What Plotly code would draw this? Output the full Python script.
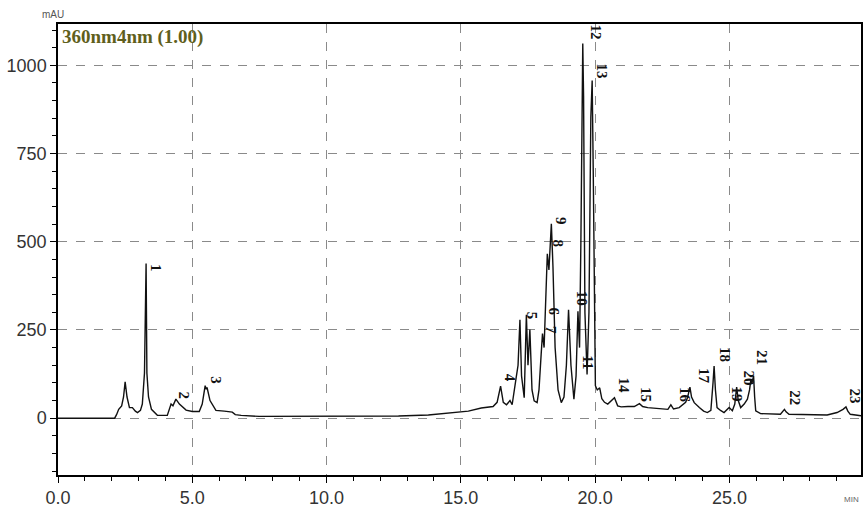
import plotly.graph_objects as go

# Chromatogram trace (time in min, absorbance in mAU)
time_min = [0.00, 2.11, 2.18, 2.26, 2.37, 2.44, 2.50, 2.57, 2.66, 2.77, 2.88, 2.96, 3.07, 3.14, 3.22, 3.28, 3.31, 3.37,
            3.48, 3.70, 4.07, 4.21, 4.28, 4.39, 4.52, 4.77, 5.00, 5.26, 5.37, 5.48, 5.52, 5.55, 5.66, 5.88, 6.19, 6.49,
            6.60, 6.82, 7.49, 10.08, 12.68, 13.79, 14.54, 15.28, 15.76, 16.20, 16.35, 16.48, 16.58, 16.70, 16.83, 16.91,
            17.06, 17.13, 17.20, 17.26, 17.36, 17.44, 17.50, 17.57, 17.65, 17.73, 17.84, 17.91, 17.99, 18.04, 18.10,
            18.15, 18.22, 18.28, 18.37, 18.43, 18.51, 18.62, 18.74, 18.84, 18.93, 19.01, 19.10, 19.21, 19.29, 19.36,
            19.42, 19.47, 19.51, 19.54, 19.57, 19.62, 19.70, 19.77, 19.84, 19.89, 19.93, 20.01, 20.08, 20.17, 20.25,
            20.35, 20.47, 20.72, 20.84, 20.97, 21.22, 21.46, 21.65, 21.77, 21.96, 22.33, 22.71, 22.82, 22.92, 23.13,
            23.37, 23.44, 23.53, 23.59, 23.69, 23.88, 24.04, 24.18, 24.31, 24.39, 24.43, 24.48, 24.54, 24.67, 24.80,
            24.99, 25.11, 25.20, 25.27, 25.33, 25.42, 25.55, 25.67, 25.75, 25.80, 25.84, 25.90, 25.94, 25.98, 26.16,
            26.60, 26.90, 27.05, 27.11, 27.22, 27.71, 28.14, 28.64, 29.01, 29.23, 29.34, 29.41, 29.50, 29.90]
absorb_mau = [0, 0, 10, 25, 35, 60, 103, 60, 30, 30, 20, 16, 22, 40, 128, 438, 128, 60,
              25, 8, 8, 40, 35, 54, 40, 23, 19, 19, 40, 92, 82, 87, 50, 22, 20, 17,
              10, 8, 5, 5, 6, 9, 14, 20, 29, 33, 45, 91, 45, 38, 50, 38,
              115, 150, 279, 120, 58, 293, 150, 251, 80, 49, 44, 80, 180, 240, 200,
              300, 466, 420, 551, 430, 200, 80, 44, 60, 150, 307, 150, 54, 120, 303,
              200, 500, 913, 1062, 913, 300, 124, 300, 853, 957, 700, 92, 80, 86, 55,
              45, 40, 58, 35, 32, 33, 33, 41, 33, 30, 27, 25, 38, 26, 30,
              45, 58, 88, 60, 44, 30, 20, 16, 22, 100, 148, 80, 30, 22, 16,
              30, 21, 40, 88, 50, 30, 40, 54, 80, 110, 100, 120, 60, 21, 13,
              12, 11, 25, 18, 11, 11, 10, 9, 16, 25, 32, 20, 11, 7]

# Peak labels
peak_names = ["1", "2", "3", "4", "5", "6", "7", "8", "9", "10", "11", "12",
              "13", "14", "15", "16", "17", "18", "19", "20", "21", "22", "23"]
peak_label_t = [3.66, 4.71, 5.90, 16.84, 17.65, 18.47, 18.36, 18.62, 18.75, 19.49, 19.75, 20.02,
                20.25, 21.08, 21.90, 23.34, 24.06, 24.86, 25.27, 25.73, 26.22, 27.46, 29.69]
peak_label_v = [425, 63, 106, 114, 290, 302, 250, 495, 560, 340, 157, 1094,
                983, 92, 68, 66, 119, 180, 68, 115, 173, 58, 63]

x_ticks = [0, 5, 10, 15, 20, 25]
y_ticks = [0, 250, 500, 750, 1000]

fig = go.Figure()
fig.add_trace(go.Scatter(x=time_min, y=absorb_mau, mode="lines",
                         line=dict(color="#111111", width=1.4), showlegend=False))

for name, t, v in zip(peak_names, peak_label_t, peak_label_v):
    fig.add_annotation(x=t, y=v, text="<b>" + name + "</b>", showarrow=False, textangle=90,
                       font=dict(family="Liberation Serif", size=15, color="#111111"))

fig.add_annotation(xref="paper", yref="paper", x=0.003, y=1.0, xanchor="left", yanchor="top",
                   text="<b>360nm4nm (1.00)</b>", showarrow=False,
                   font=dict(family="Liberation Serif", size=19, color="#5f5f1c"))
fig.add_annotation(xref="paper", yref="paper", x=0.0, y=1.0, xanchor="right", yanchor="bottom",
                   xshift=8, yshift=2, text="mAU", showarrow=False,
                   font=dict(family="Liberation Sans", size=10, color="#555555"))
fig.add_annotation(xref="paper", yref="paper", x=1.0, y=0.0, xanchor="right", yanchor="top",
                   yshift=-18, text="MIN", showarrow=False,
                   font=dict(family="Liberation Sans", size=8, color="#666666"))

fig.update_layout(
    width=865, height=510,
    margin=dict(l=58, r=2, t=24, b=32),
    paper_bgcolor="white", plot_bgcolor="white",
    xaxis=dict(range=[0, 29.9], tickvals=x_ticks, tickformat=".1f",
               showline=True, linecolor="black", linewidth=1.5, mirror=True,
               ticks="outside", ticklen=6, tickcolor="black",
               minor=dict(dtick=1, tick0=0, ticks="outside", ticklen=4, tickcolor="black", showgrid=False),
               showgrid=True, gridcolor="#8a8a8a", griddash="dash", gridwidth=1, zeroline=False,
               tickfont=dict(family="Liberation Sans", size=18, color="#333333")),
    yaxis=dict(range=[-161, 1117], tickvals=y_ticks,
               showline=True, linecolor="black", linewidth=1.5, mirror=True,
               ticks="outside", ticklen=6, tickcolor="black",
               minor=dict(dtick=50, tick0=0, ticks="outside", ticklen=4, tickcolor="black", showgrid=False),
               showgrid=True, gridcolor="#8a8a8a", griddash="dash", gridwidth=1, zeroline=False,
               tickfont=dict(family="Liberation Sans", size=18, color="#333333")),
)

fig.write_html("out.html")
